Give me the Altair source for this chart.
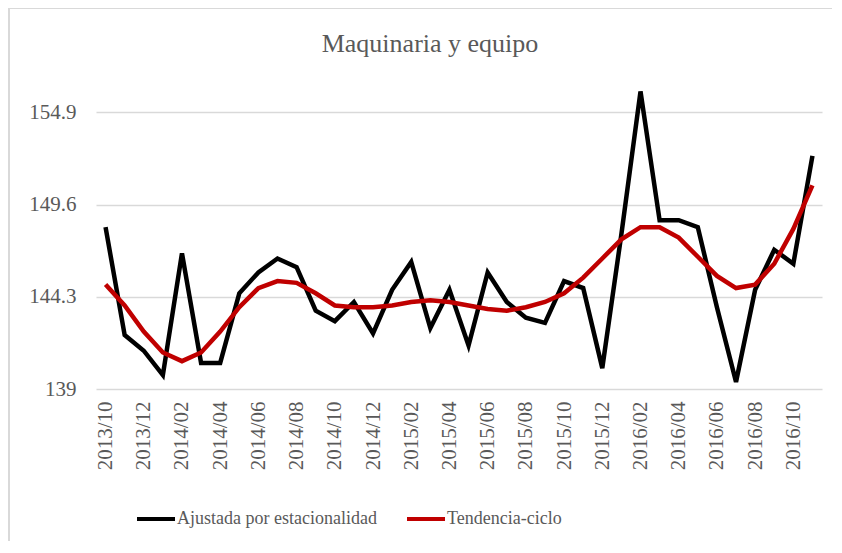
import altair as alt
import pandas as pd

months = [
    "2013/10", "2013/11", "2013/12",
    "2014/01", "2014/02", "2014/03", "2014/04", "2014/05", "2014/06",
    "2014/07", "2014/08", "2014/09", "2014/10", "2014/11", "2014/12",
    "2015/01", "2015/02", "2015/03", "2015/04", "2015/05", "2015/06",
    "2015/07", "2015/08", "2015/09", "2015/10", "2015/11", "2015/12",
    "2016/01", "2016/02", "2016/03", "2016/04", "2016/05", "2016/06",
    "2016/07", "2016/08", "2016/09", "2016/10", "2016/11",
]

ajustada = [
    148.3, 142.1, 141.2, 139.8, 146.8, 140.5, 140.5, 144.5, 145.7,
    146.5, 146.0, 143.5, 142.9, 144.0, 142.2, 144.7, 146.3, 142.5,
    144.7, 141.5, 145.7, 144.0, 143.1, 142.8, 145.2, 144.8, 140.2,
    147.9, 156.1, 148.7, 148.7, 148.3, 143.7, 139.4, 144.7, 147.0,
    146.2, 152.4,
]

tendencia = [
    145.0, 143.8, 142.3, 141.1, 140.6, 141.1, 142.3, 143.7, 144.8,
    145.2, 145.1, 144.5, 143.8, 143.7, 143.7, 143.8, 144.0, 144.1,
    144.0, 143.8, 143.6, 143.5, 143.7, 144.0, 144.5, 145.4, 146.5,
    147.6, 148.3, 148.3, 147.7, 146.6, 145.5, 144.8, 145.0, 146.2,
    148.2, 150.7,
]

series_names = ["Ajustada por estacionalidad", "Tendencia-ciclo"]
series_colors = ["#000000", "#c00000"]
y_ticks = [139, 144.3, 149.6, 154.9]
x_label_months = months[::2]
title_text = "Maquinaria y equipo"

df = pd.DataFrame(
    {
        "mes": months * 2,
        "valor": ajustada + tendencia,
        "serie": [series_names[0]] * len(months) + [series_names[1]] * len(months),
    }
)

FONT = "Liberation Serif"
GRAY = "#595959"
GRID = "#d9d9d9"

W, H = 726, 304
PAD = {"left": 88, "top": 77, "right": 10, "bottom": 152}

lines = (
    alt.Chart(df)
    .mark_line(strokeWidth=4.5)
    .encode(
        x=alt.X(
            "mes:O",
            sort=months,
            scale=alt.Scale(type="point", padding=0.5),
            axis=alt.Axis(
                title=None,
                values=x_label_months,
                labelAngle=-90,
                labelFont=FONT,
                labelFontSize=21,
                labelColor=GRAY,
                labelPadding=12,
                ticks=False,
                domain=False,
                grid=False,
            ),
        ),
        y=alt.Y(
            "valor:Q",
            scale=alt.Scale(domain=[139, 156.47], nice=False, zero=False),
            axis=alt.Axis(
                title=None,
                values=y_ticks,
                format=".4~g",
                labelFont=FONT,
                labelFontSize=21,
                labelColor=GRAY,
                labelPadding=20,
                ticks=False,
                domain=False,
                gridColor=GRID,
                gridWidth=1.5,
            ),
        ),
        color=alt.Color(
            "serie:N",
            scale=alt.Scale(domain=series_names, range=series_colors),
            legend=alt.Legend(
                title=None,
                orient="none",
                legendX=39,
                legendY=413,
                direction="horizontal",
                symbolType="stroke",
                symbolSize=1444,
                symbolStrokeWidth=4,
                labelFont=FONT,
                labelFontSize=18,
                labelColor=GRAY,
                labelOffset=0,
                columnPadding=22,
                labelLimit=400,
            ),
        ),
    )
)

frame_df = pd.DataFrame({"k": [0]})
left_border = (
    alt.Chart(frame_df)
    .mark_rule(color=GRID, strokeWidth=2)
    .encode(x=alt.value(-87), y=alt.value(-77), y2=alt.value(H + PAD["bottom"]))
)
top_border = (
    alt.Chart(frame_df)
    .mark_rule(color=GRID, strokeWidth=2)
    .encode(x=alt.value(-87), x2=alt.value(W + PAD["right"]), y=alt.value(-77))
)
title_mark = (
    alt.Chart(pd.DataFrame({"t": [title_text]}))
    .mark_text(font=FONT, fontSize=26, color=GRAY, align="center", baseline="middle")
    .encode(text="t:N", x=alt.value(334), y=alt.value(-41))
)

chart = (
    alt.layer(left_border, top_border, title_mark, lines)
    .properties(
        width=W,
        height=H,
        autosize=alt.AutoSizeParams(type="none"),
        padding=PAD,
    )
    .configure_view(stroke=None)
)

chart.save("out.html", embed_options={"renderer": "svg", "actions": False})
